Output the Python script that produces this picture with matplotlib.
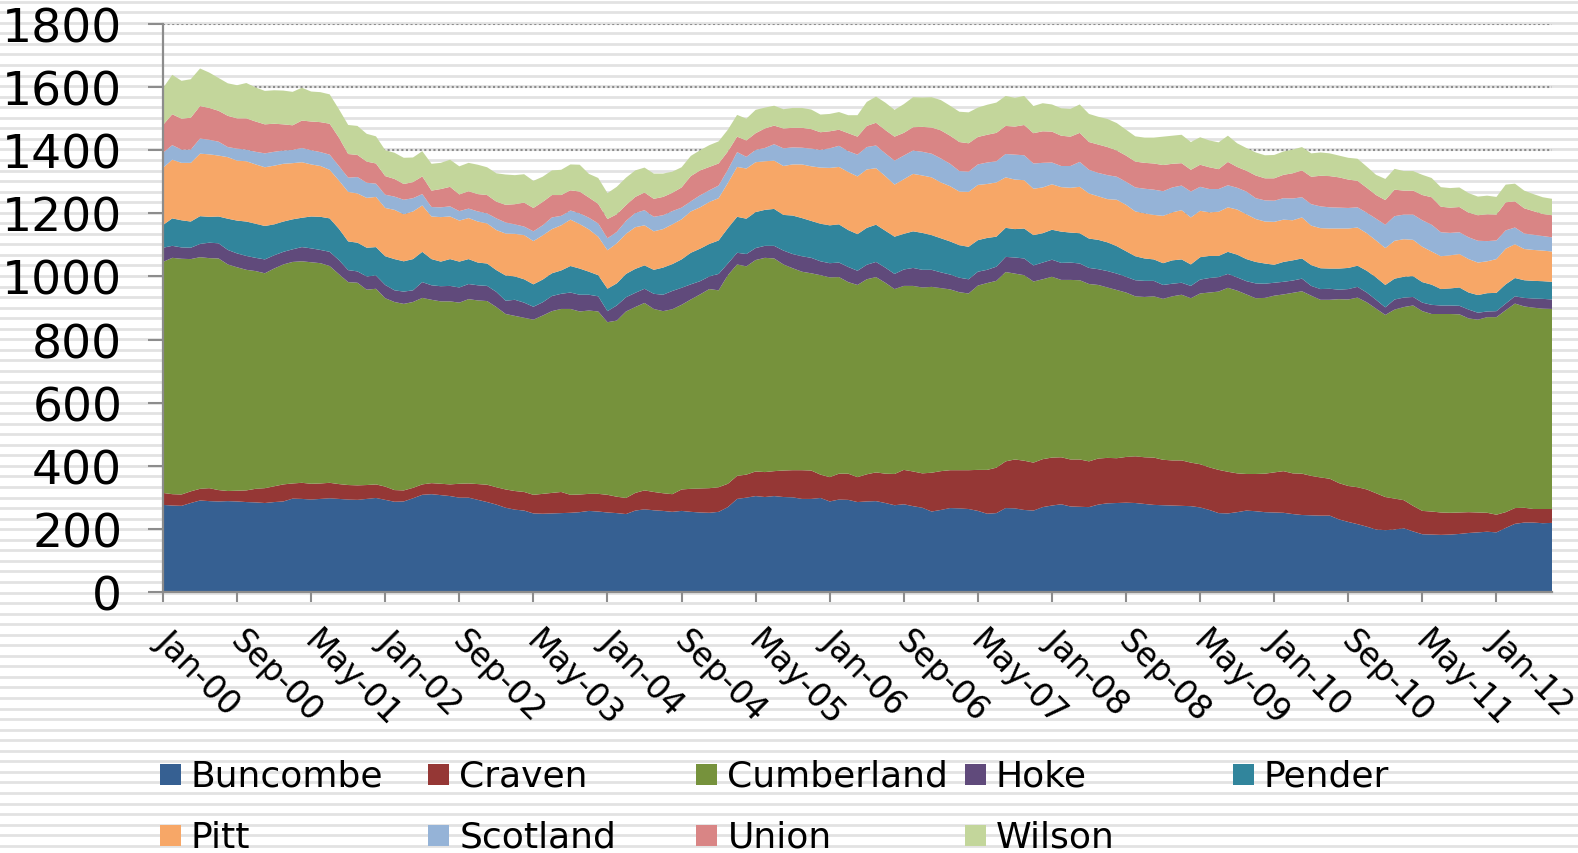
import numpy as np
import matplotlib
matplotlib.use("Agg")
import matplotlib.pyplot as plt
from matplotlib.patches import Rectangle
from matplotlib.transforms import ScaledTranslation

plt.rcParams['font.family'] = ['DejaVu Sans']

# monthly values, Jan-00 .. Jul-12
counties = ['Buncombe', 'Craven', 'Cumberland', 'Hoke', 'Pender',
            'Pitt', 'Scotland', 'Union', 'Wilson']

buncombe = [276, 274, 273, 282, 290, 288, 287, 288, 287, 285, 284, 282, 285, 287, 296, 295, 293, 295, 297, 295,
            293, 292, 295, 298, 292, 286, 287, 297, 308, 310, 307, 304, 299, 299, 292, 285, 277, 267, 261, 258,
            249, 248, 249, 250, 251, 253, 257, 255, 252, 250, 247, 258, 262, 259, 257, 254, 257, 254, 252, 251,
            254, 269, 295, 299, 304, 301, 304, 301, 300, 295, 295, 298, 287, 293, 292,
            285, 287, 288, 282, 275, 278, 272, 267, 255, 260, 266, 265, 263, 257, 248, 250, 266, 265, 260, 258,
            269, 274, 278, 271, 270, 269, 277, 281, 282, 283, 282, 279, 276, 275, 274, 273, 272, 268, 260, 250,
            249, 253, 258, 256, 253, 252, 251, 247, 244, 243, 242, 242, 230, 222, 215, 207, 198, 196, 198, 202,
            192, 183, 182, 181, 182, 184, 187, 189, 191, 189, 203, 216, 220, 220, 218, 219]
craven = [38, 36, 36, 37, 37, 41, 36, 32, 34, 37, 43, 47, 50, 54, 48, 51, 50, 49, 49, 47,
          46, 46, 44, 43, 42, 37, 35, 33, 33, 35, 36, 37, 44, 45, 50, 55, 55, 58, 59, 59,
          59, 63, 65, 67, 57, 56, 54, 56, 56, 52, 51, 56, 60, 58, 56, 56, 68, 73, 76, 78,
          78, 74, 73, 73, 78, 79, 79, 84, 86, 91, 90, 74, 77, 82, 83,
          79, 86, 91, 93, 99, 109, 110, 109, 123, 123, 120, 121, 123, 130, 139, 144, 148, 155, 156, 152,
          152, 152, 149, 149, 150, 145, 146, 144, 142, 145, 148, 148, 150, 144, 143, 144, 138, 137, 135, 137,
          132, 123, 116, 118, 122, 127, 132, 129, 131, 125, 121, 117, 115, 114, 117, 118, 115, 105, 98, 89,
          81, 74, 73, 71, 69, 68, 66, 63, 60, 56, 50, 50, 47, 43, 45, 44]
cumberland = [732, 749, 747, 736, 734, 729, 734, 718, 708, 699, 690, 681, 690, 697, 702, 702, 702, 698, 687, 665,
              643, 642, 619, 620, 597, 596, 591, 589, 591, 581, 578, 580, 574, 584, 582, 582, 571, 556,
              555, 552, 555, 565, 576, 580, 589, 580, 581, 578, 547, 558, 591, 589, 594, 580, 577, 586, 585, 600,
              615, 631, 624, 661, 670, 660, 670, 679, 674, 653, 640, 629, 625, 632, 633, 623, 607,
              609, 618, 619, 605, 586, 583, 588, 589, 589, 580, 573, 564, 560, 584, 592, 592, 600, 589, 588, 574,
              570, 573, 562, 569, 568, 562, 550, 540, 533, 521, 507, 508, 511, 510, 520, 525, 521, 541, 554, 565,
              583, 579, 569, 557, 557, 560, 560, 572, 578, 571, 563, 567, 583, 591, 601, 593, 585, 577, 599, 612,
              635, 633, 626, 629, 630, 628, 614, 611, 620, 626, 640, 648, 638, 638, 635, 634]
hoke = [45, 38, 36, 36, 42, 49, 48, 46, 44, 44, 42, 44, 42, 40, 40, 45, 44, 42, 45, 45,
        38, 36, 42, 42, 42, 37, 39, 37, 50, 46, 48, 49, 48, 48, 48, 48, 48, 42,
        51, 48, 41, 42, 48, 48, 52, 53, 50, 48, 35, 48, 45, 45, 45, 48, 52, 58, 54, 48,
        42, 40, 52, 37, 37, 39, 38, 38, 40, 44, 45, 49, 49, 44, 45, 46, 48,
        45, 46, 48, 48, 48, 52, 57, 56, 54, 50, 47, 46, 45, 44, 42, 45, 48, 51, 53, 51,
        53, 54, 54, 55, 53, 51, 50, 52, 52, 50, 51, 51, 49, 44, 40, 38, 39,
        44, 46, 46, 44, 42, 42, 47, 45, 41, 40, 39, 40, 31, 34, 35, 30, 33, 34, 31, 28,
        24, 32, 30, 27, 27, 29, 27, 27, 27, 28, 22, 18, 19, 21, 23, 27, 29, 31, 30]
pender = [72, 87, 86, 83, 88, 82, 85, 99, 104, 109, 108, 106, 98, 96, 95, 93, 101, 105, 106, 99,
          91, 91, 91, 90, 91, 99, 96, 99, 96, 83, 78, 85, 82, 79, 72, 71, 69, 80,
          74, 74, 71, 72, 72, 74, 84, 83, 73, 67, 71, 70, 74, 76, 74, 76, 86, 85, 90, 100,
          103, 103, 106, 112, 114, 112, 114, 114, 117, 113, 122, 121, 117, 119, 120, 121, 117,
          116, 117, 118, 117, 118, 113, 116, 117, 110, 108, 105, 103, 103, 100, 101, 95, 92, 90, 95, 96,
          93, 95, 99, 95, 96, 93, 93, 91, 87, 81, 76, 71, 68, 69, 74, 74, 68,
          71, 70, 67, 70, 72, 70, 68, 64, 57, 63, 64, 64, 66, 66, 64, 67, 67, 67, 69, 71,
          71, 66, 66, 66, 65, 64, 52, 54, 58, 54, 56, 58, 58, 61, 58, 56, 56, 56, 56]
pitt = [181, 186, 182, 186, 198, 198, 193, 195, 190, 191, 188, 186, 186, 183, 178, 176, 165, 161, 154, 153,
        157, 156, 158, 159, 153, 156, 149, 151, 147, 135, 141, 135, 130, 130, 130, 127, 127, 133,
        135, 140, 137, 140, 140, 143, 147, 141, 134, 122, 122, 127, 127, 132, 127, 122, 122, 126, 127, 131,
        131, 133, 134, 143, 158, 159, 158, 154, 153, 155, 162, 170, 173, 178, 182, 182, 184,
        183, 185, 179, 173, 165, 173, 182, 182, 183, 177, 175, 170, 174, 175, 171, 172, 160, 157, 153, 147,
        145, 144, 141, 142, 147, 143, 138, 137, 147, 147, 142, 143, 141, 150, 152, 156, 149,
        147, 138, 140, 141, 143, 142, 136, 133, 136, 134, 127, 130, 125, 127, 127, 127, 125, 121, 119, 117,
        117, 120, 119, 115, 112, 105, 104, 105, 106, 106, 103, 101, 107, 113, 107, 99, 98, 97, 96]
scotland = [48, 46, 42, 42, 48, 46, 44, 32, 38, 37, 40, 44, 44, 42, 42, 45, 45, 44, 48, 46,
            45, 52, 48, 42, 42, 42, 46, 42, 36, 30, 31, 32, 30, 30, 32, 32, 37, 35,
            30, 27, 31, 32, 37, 30, 29, 34, 37, 42, 38, 36, 41, 45, 48, 46, 44, 42, 37, 32,
            38, 37, 40, 42, 47, 37, 39, 42, 52, 56, 54, 53, 56, 56, 62, 67, 66,
            69, 71, 72, 72, 76, 75, 74, 75, 75, 76, 71, 65, 64, 65, 68, 67, 74, 79, 79, 80,
            78, 69, 67, 69, 79, 75, 74, 76, 73, 73, 76, 78, 80, 78, 79, 78, 82,
            76, 74, 72, 70, 69, 72, 66, 67, 67, 68, 69, 64, 68, 69, 67, 66, 65, 64, 65, 69,
            74, 78, 78, 80, 84, 85, 76, 71, 69, 69, 69, 64, 59, 58, 53, 49, 48, 46, 45]
union = [88, 98, 98, 101, 103, 101, 98, 99, 96, 99, 96, 92, 89, 83, 78, 87, 91, 95, 98, 90,
         75, 70, 67, 64, 59, 56, 50, 51, 56, 52, 58, 62, 53, 55, 55, 58, 53, 56,
         64, 76, 74, 74, 71, 66, 64, 69, 64, 62, 61, 56, 50, 51, 56, 57, 58, 58, 64, 80,
         79, 74, 70, 58, 49, 52, 53, 62, 59, 63, 62, 63, 62, 56, 54, 51, 57,
         57, 67, 72, 74, 76, 72, 74, 79, 83, 89, 89, 92, 90, 87, 88, 90, 89, 89, 96, 96,
         100, 98, 96, 93, 92, 88, 90, 89, 83, 83, 82, 82, 83, 83, 75, 71, 69,
         70, 69, 63, 74, 66, 66, 72, 70, 71, 74, 80, 85, 87, 97, 99, 96, 90, 84, 79, 75,
         78, 84, 76, 76, 80, 87, 81, 80, 80, 78, 81, 85, 82, 89, 83, 80, 75, 70, 70]
wilson = [117, 125, 120, 122, 119, 112, 104, 103, 105, 112, 108, 106, 106, 107, 106, 104, 95, 95, 93, 90,
          92, 92, 88, 86, 82, 83, 83, 78, 80, 85, 83, 86, 89, 90, 93, 88, 90, 96,
          92, 90, 86, 80, 78, 80, 82, 85, 75, 82, 82, 87, 87, 84, 79, 80, 74, 67, 64, 64,
          64, 69, 70, 69, 69, 69, 74, 66, 63, 61, 63, 63, 62, 56, 55, 56, 57,
          68, 76, 83, 87, 85, 91, 95, 93, 96, 96, 95, 96, 98, 93, 95, 96, 95, 91, 92, 86,
          89, 86, 87, 88, 90, 89, 88, 89, 87, 82, 80, 80, 82, 90, 89, 90, 88,
          87, 85, 85, 83, 75, 72, 73, 73, 74, 74, 75, 74, 74, 74, 72, 69, 69, 70, 67, 64,
          67, 66, 62, 62, 64, 61, 62, 62, 62, 62, 59, 59, 56, 56, 56, 56, 54, 53, 52]

tick_labels = ['Jan-00', 'Sep-00', 'May-01', 'Jan-02', 'Sep-02', 'May-03', 'Jan-04',
               'Sep-04', 'May-05', 'Jan-06', 'Sep-06', 'May-07', 'Jan-08', 'Sep-08',
               'May-09', 'Jan-10', 'Sep-10', 'May-11', 'Jan-12']

colors = ['#366092', '#953735', '#76923C', '#604A7B', '#31859C',
          '#F7A767', '#95B3D7', '#D98585', '#C3D69B']

series = [buncombe, craven, cumberland, hoke, pender, pitt, scotland, union, wilson]
months = np.arange(len(buncombe))

W, H = 1578, 854
fig = plt.figure(figsize=(W / 100, H / 100), dpi=100)
fig.patch.set_facecolor('white')

# striped background
bg = fig.add_axes([0, 0, 1, 1], zorder=-10)
bg.set_xlim(0, W)
bg.set_ylim(H, 0)
bg.axis('off')
for yy in np.arange(2.7, H, 10.55):
    bg.axhline(yy, color='#e2e2e2', lw=2.0)

ax = fig.add_axes([163 / W, (H - 593) / H, 1389 / W, 568 / H])
ax.set_facecolor('none')
ax.stackplot(months, *series, colors=colors, linewidth=0)

ax.set_xlim(0, len(months) - 1)
ax.set_ylim(0, 1800)
ax.set_yticks(np.arange(0, 1801, 200))
ax.set_axisbelow(True)
ax.yaxis.grid(True, linestyle=(0, (1, 1.2)), color='#8c8c8c', lw=1.5)

for s in ['top', 'right']:
    ax.spines[s].set_visible(False)
for s in ['left', 'bottom']:
    ax.spines[s].set_color('#8c8c8c')
    ax.spines[s].set_linewidth(1.6)

ax.tick_params(axis='y', direction='out', length=10.8, width=1.5, color='#8c8c8c',
               labelsize=34, pad=18.5)
xt = np.arange(0, len(months), 8)
ax.set_xticks(xt)
ax.set_xticklabels([])
ax.tick_params(axis='x', direction='out', length=7.2, width=1.5, color='#8c8c8c')

off = ScaledTranslation(-0.02, -0.43, fig.dpi_scale_trans)
for pos, lab in zip(xt, tick_labels):
    ax.text(pos, 0, lab, transform=ax.get_xaxis_transform() + off,
            rotation=-45, rotation_mode='anchor', ha='left', va='center',
            fontsize=23.5, color='black')

# legend, two rows of five
for i, (name, c) in enumerate(zip(counties, colors)):
    row, col = divmod(i, 5)
    x0 = 160 + 268.2 * col
    base = 787 + 61 * row
    fig.add_artist(Rectangle((x0 / W, 1 - (base - 1) / H), 21 / W, 21 / H,
                             transform=fig.transFigure, facecolor=c, edgecolor='none'))
    fig.text((x0 + 31) / W, 1 - base / H, name, fontsize=26,
             ha='left', va='baseline', color='black')

fig.savefig('out.png', dpi=100)
